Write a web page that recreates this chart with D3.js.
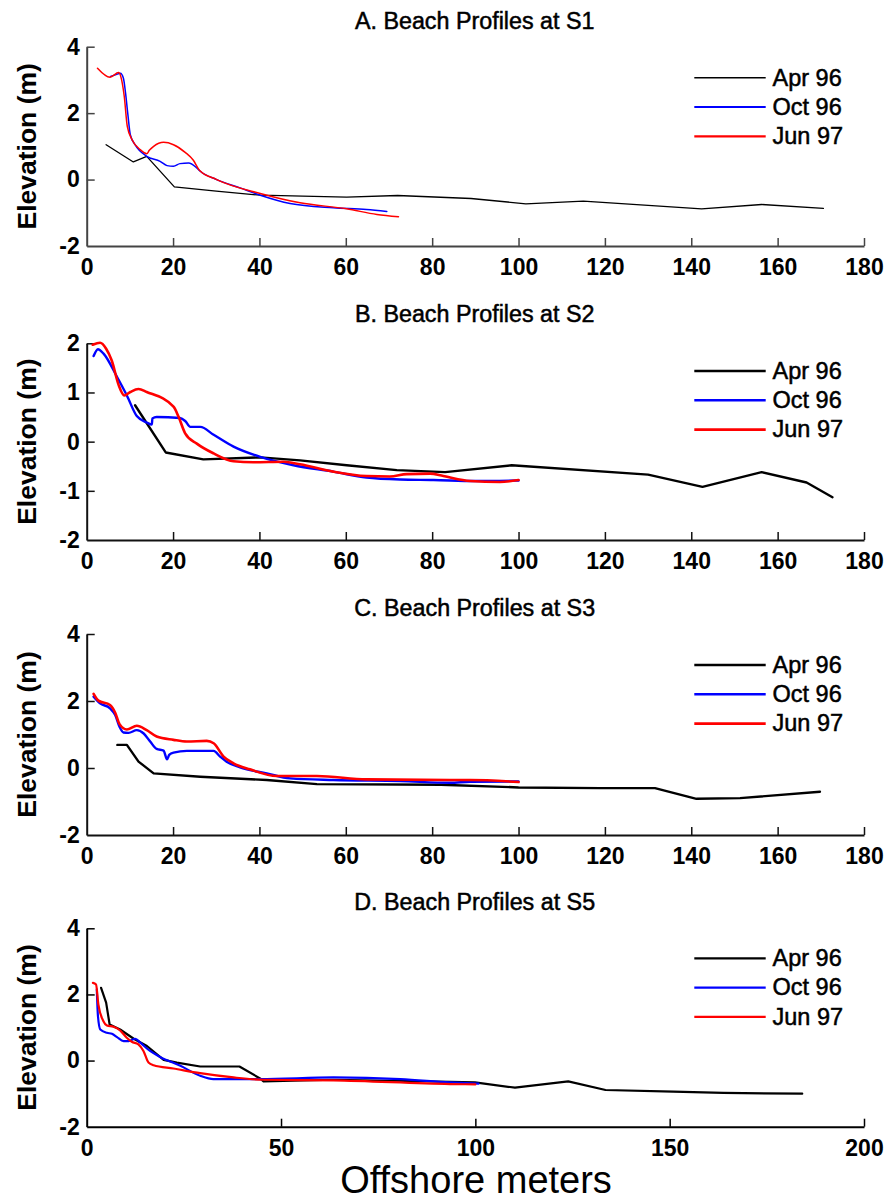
<!DOCTYPE html>
<html>
<head>
<meta charset="utf-8">
<script src="https://cdn.jsdelivr.net/npm/d3@7"></script>
<style>
  html, body { margin: 0; padding: 0; background: #fff; }
  svg { display: block; }
</style>
</head>
<body>
<svg id="chart" width="888" height="1201"></svg>
<script>
// ---------------- DATA ----------------
const seriesNames = ["Apr 96", "Oct 96", "Jun 97"];
const panelTitles = ["A. Beach Profiles at S1", "B. Beach Profiles at S2", "C. Beach Profiles at S3", "D. Beach Profiles at S5"];
const yTicksA = [-2, 0, 2, 4];
const yTicksB = [-2, -1, 0, 1, 2];
const yTicksC = [-2, 0, 2, 4];
const yTicksD = [-2, 0, 2, 4];
const xTicksABC = [0, 20, 40, 60, 80, 100, 120, 140, 160, 180];
const xTicksD = [0, 50, 100, 150, 200];
const xLabel = "Offshore meters";
const yLabel = "Elevation (m)";

// S1 profiles [offshore m, elevation m]
const s1Apr96 = [[4.5,1.05],[10.8,0.53],[13.9,0.7],[20.3,-0.22],[30,-0.35],[40.2,-0.47],[50,-0.5],[60.2,-0.53],[72,-0.48],[89,-0.57],[101.7,-0.73],[115,-0.65],[142.4,-0.88],[156.3,-0.75],[170.6,-0.87]];
const s1Oct96 = [[5.5,3.1],[6.8,3.16],[7.8,3.2],[8.5,3.05],[9.0,2.6],[9.5,2.0],[10.1,1.35],[11.2,1.05],[13.9,0.7],[17,0.55],[18.6,0.42],[20.1,0.4],[21.6,0.48],[23.6,0.5],[25.5,0.35],[26.3,0.25],[30.1,0.0],[35.5,-0.25],[40.2,-0.47],[47.1,-0.72],[57.1,-0.85],[64.8,-0.9],[69.5,-0.96]];
const s1Jun97 = [[2.5,3.35],[5.4,3.08],[7.4,3.22],[7.9,3.1],[8.7,2.5],[9.4,1.6],[10.5,1.2],[12.4,0.9],[13.9,0.78],[14.5,0.88],[15.5,1.0],[17.8,1.12],[20.1,1.05],[22.8,0.82],[24.7,0.58],[26.1,0.28],[30.1,0.0],[40.2,-0.42],[49.4,-0.7],[60.2,-0.88],[67.2,-1.05],[72.2,-1.12]];

// S2 profiles
const s2Apr96 = [[11.2,0.74],[18.3,-0.22],[27,-0.36],[40.2,-0.32],[49.4,-0.38],[60.2,-0.48],[71.8,-0.58],[83,-0.62],[98.4,-0.48],[130,-0.67],[142.6,-0.92],[156.3,-0.62],[166.7,-0.83],[172.7,-1.13]];
const s2Oct96 = [[1.6,1.74],[2.6,1.88],[3.9,1.79],[7,1.32],[9.3,0.94],[11.6,0.52],[13.9,0.39],[15.1,0.35],[15.2,0.47],[16.2,0.5],[21.6,0.48],[22.8,0.42],[24,0.3],[26.3,0.3],[29.4,0.14],[34,-0.1],[40.2,-0.31],[47.9,-0.48],[57.1,-0.61],[64.8,-0.73],[72.6,-0.77],[80.3,-0.78],[90,-0.8],[100,-0.79]];
const s2Jun97 = [[1.4,1.97],[3.1,2.01],[4.5,1.89],[5.8,1.65],[7.4,1.15],[8.7,0.94],[10.1,1.01],[12,1.07],[13.9,1.01],[20.1,0.71],[21.3,0.5],[22.8,0.17],[25.5,-0.04],[29.4,-0.24],[34,-0.4],[38.6,-0.42],[45.6,-0.41],[49.4,-0.46],[57.1,-0.61],[64.8,-0.7],[70.2,-0.71],[74.1,-0.66],[79.5,-0.65],[82.6,-0.7],[88.8,-0.8],[95.7,-0.82],[100,-0.78]];

// S3 profiles
const s3Apr96 = [[7.1,0.69],[9.3,0.69],[12,0.19],[15.5,-0.16],[26.3,-0.26],[41.7,-0.36],[53.3,-0.48],[82,-0.5],[100,-0.58],[118.9,-0.6],[131.6,-0.6],[141.2,-0.92],[151.3,-0.9],[169.8,-0.71]];
const s3Oct96 = [[1.6,2.13],[3.1,1.93],[5.4,1.78],[6.6,1.58],[7.6,1.23],[8.5,1.06],[9.7,1.05],[11.6,1.13],[13.2,1.03],[14.7,0.79],[16.2,0.57],[17.8,0.52],[18.6,0.26],[19.1,0.39],[20.1,0.46],[23.2,0.51],[29.4,0.51],[30.9,0.34],[32.4,0.19],[35.5,0.02],[41.7,-0.16],[47.1,-0.31],[57.1,-0.36],[72.6,-0.39],[84.1,-0.44],[88.8,-0.41],[100,-0.4]];
const s3Jun97 = [[1.6,2.21],[2.7,2.01],[5.4,1.88],[6.6,1.65],[7.6,1.31],[9.3,1.15],[11.6,1.26],[13.9,1.13],[16.2,0.94],[20.1,0.84],[23.2,0.79],[27.8,0.81],[29.4,0.74],[31.7,0.34],[34,0.14],[37.8,-0.04],[44,-0.24],[53.3,-0.24],[64.8,-0.34],[84.1,-0.36],[88.8,-0.36],[100,-0.42]];

// S5 profiles
const s5Apr96 = [[3.7,2.2],[5,1.75],[5.9,1.09],[8.6,0.94],[12.1,0.66],[15.5,0.44],[19.8,0.02],[23.2,-0.06],[29.2,-0.18],[39.3,-0.18],[44.6,-0.54],[45.5,-0.63],[63.5,-0.58],[93.5,-0.64],[99.9,-0.66],[110.2,-0.82],[123.9,-0.63],[133.5,-0.89],[150.9,-0.94],[163.8,-0.98],[184.1,-1.0]];
const s5Oct96 = [[2.6,2.15],[2.9,1.34],[3.5,0.94],[5.2,0.84],[6.5,0.81],[7.8,0.71],[9.5,0.59],[10.8,0.59],[12.5,0.66],[13.8,0.54],[16.3,0.29],[18.9,0.11],[24.1,-0.16],[29.2,-0.46],[32.6,-0.56],[44.6,-0.56],[63.5,-0.51],[80.7,-0.56],[93.5,-0.66],[100.8,-0.7]];
const s5Jun97 = [[1.6,2.35],[2.4,2.3],[3.0,1.7],[4.3,1.19],[5.2,1.06],[6.9,1.02],[8.6,0.91],[10.3,0.69],[11.6,0.57],[13.3,0.49],[14.6,0.29],[15.9,-0.06],[17.2,-0.14],[22.3,-0.24],[29.2,-0.38],[37.8,-0.51],[45.5,-0.58],[63.5,-0.6],[93.5,-0.71],[100,-0.72]];

// ---------------- LAYOUT ----------------
const FONT = "'Liberation Sans', Arial, Helvetica, sans-serif";
const colors = ["#000000", "#0000ff", "#ff0000"];
const plotLeft = 86.7, plotRight = 864;

const panels = [
  { title: panelTitles[0], top: 46.7, bottom: 246, yDomain: [-2, 4], yTicks: yTicksA, xDomain: [0, 180], xTicks: xTicksABC,
    data: [s1Apr96, s1Oct96, s1Jun97], widths: [1.3, 1.5, 1.5], legendW: [1.6, 2.2, 2.2], titleBase: 29.3, legendY: 77.7, axisColor: "#444" },
  { title: panelTitles[1], top: 343.3, bottom: 540, yDomain: [-2, 2], yTicks: yTicksB, xDomain: [0, 180], xTicks: xTicksABC,
    data: [s2Apr96, s2Oct96, s2Jun97], widths: [2.4, 2.4, 2.6], legendW: [2.4, 2.4, 2.6], titleBase: 322.3, legendY: 371, axisColor: "#111" },
  { title: panelTitles[2], top: 634, bottom: 835, yDomain: [-2, 4], yTicks: yTicksC, xDomain: [0, 180], xTicks: xTicksABC,
    data: [s3Apr96, s3Oct96, s3Jun97], widths: [2.4, 2.4, 2.6], legendW: [2.4, 2.4, 2.6], titleBase: 616, legendY: 665, axisColor: "#111" },
  { title: panelTitles[3], top: 928.3, bottom: 1126.7, yDomain: [-2, 4], yTicks: yTicksD, xDomain: [0, 200], xTicks: xTicksD,
    data: [s5Apr96, s5Oct96, s5Jun97], widths: [2.2, 2.2, 2.2], legendW: [2.2, 2.2, 2.2], titleBase: 910, legendY: 958.3, axisColor: "#000" }
];

const svg = d3.select("#chart");
svg.append("rect").attr("width", 888).attr("height", 1201).attr("fill", "#fff");

panels.forEach(p => {
  const g = svg.append("g");
  const x = d3.scaleLinear().domain(p.xDomain).range([plotLeft, plotRight]);
  const y = d3.scaleLinear().domain(p.yDomain).range([p.bottom, p.top]);

  // title
  g.append("text")
    .attr("x", 474.7).attr("y", p.titleBase)
    .attr("text-anchor", "middle")
    .attr("font-family", FONT).attr("font-size", 23.3)
    .attr("fill", "#000")
    .attr("stroke", "#000").attr("stroke-width", 0.5)
    .text(p.title);

  // axes
  const yAxis = d3.axisLeft(y).tickValues(p.yTicks).tickSize(-8).tickSizeOuter(0).tickPadding(7)
    .tickFormat(d => d < 0 ? "-" + Math.abs(d) : String(d));
  const ya = g.append("g").attr("transform", `translate(${plotLeft},0)`).call(yAxis);
  const xAxis = d3.axisBottom(x).tickValues(p.xTicks).tickSize(-8).tickSizeOuter(0).tickPadding(13);
  const xa = g.append("g").attr("transform", `translate(0,${p.bottom})`).call(xAxis);
  [ya, xa].forEach(a => {
    a.select(".domain").attr("stroke", p.axisColor).attr("stroke-width", 2);
    a.selectAll(".tick line").attr("stroke", p.axisColor).attr("stroke-width", 1.5);
    a.selectAll(".tick text").attr("font-family", FONT).attr("font-size", 23)
      .attr("font-weight", "bold").attr("fill", "#000");
  });
  xa.selectAll(".tick").filter(d => d === 0).select("line").remove();
  ya.selectAll(".tick").filter(d => d === p.yDomain[0]).select("line").remove();

  // y-axis label
  g.append("text")
    .attr("transform", `translate(36,${(p.top + p.bottom) / 2}) rotate(-90)`)
    .attr("text-anchor", "middle")
    .attr("font-family", FONT).attr("font-size", 26.5).attr("font-weight", "bold")
    .attr("fill", "#000")
    .text(yLabel);

  // lines
  p.data.forEach((d, i) => {
    const line = d3.line()
      .x(v => x(v[0])).y(v => y(v[1]))
      .curve(i === 0 ? d3.curveLinear : d3.curveMonotoneX);
    g.append("path").datum(d)
      .attr("d", line)
      .attr("fill", "none")
      .attr("stroke", colors[i])
      .attr("stroke-width", p.widths[i])
      .attr("stroke-linejoin", "round")
      .attr("stroke-linecap", "round");
  });

  // legend
  const lg = g.append("g");
  seriesNames.forEach((name, i) => {
    const ly = p.legendY + i * 29.3;
    lg.append("line")
      .attr("x1", 694.3).attr("x2", 765.7).attr("y1", ly).attr("y2", ly)
      .attr("stroke", colors[i]).attr("stroke-width", p.legendW[i]);
    lg.append("text")
      .attr("x", 772.5).attr("y", ly + 7.8)
      .attr("font-family", FONT).attr("font-size", 23.5)
      .attr("fill", "#000")
      .attr("stroke", "#000").attr("stroke-width", 0.5)
      .text(name);
  });
});

// x-axis label
svg.append("text")
  .attr("x", 476).attr("y", 1193)
  .attr("text-anchor", "middle")
  .attr("font-family", FONT).attr("font-size", 38)
  .attr("fill", "#000")
  .text(xLabel);
</script>
</body>
</html>
